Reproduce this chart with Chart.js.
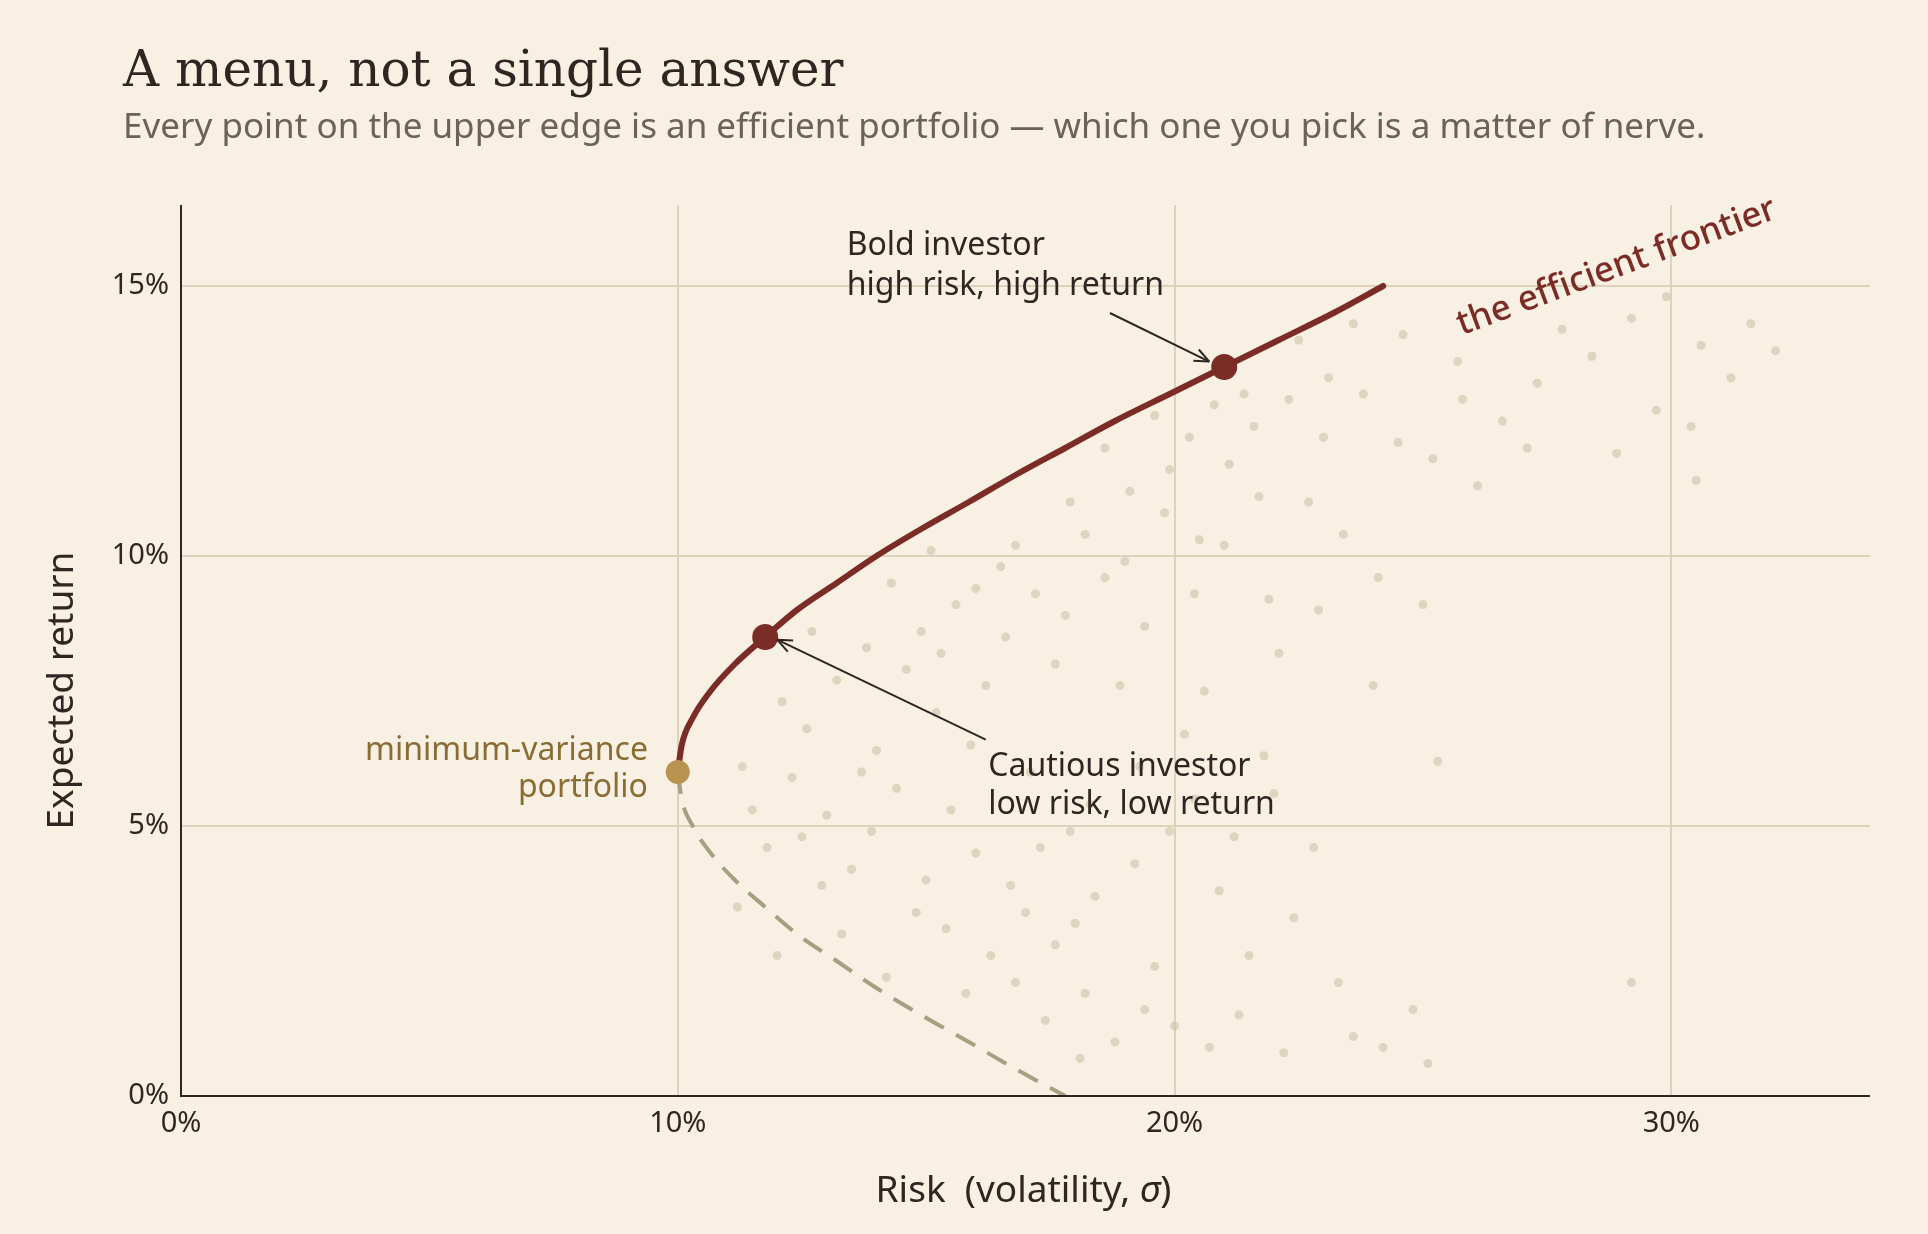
<!DOCTYPE html>
<html>
<head>
<meta charset="utf-8">
<script src="https://cdn.jsdelivr.net/npm/chart.js@4"></script>
<style>
  html, body { margin: 0; padding: 0; background: #f7f0e3; }
  #wrap { width: 1928px; height: 1234px; position: relative; }
</style>
</head>
<body>
<div id="wrap"><canvas id="chart" width="1928" height="1234"></canvas></div>
<script>
const X_TICKS = [0, 10, 20, 30];
const Y_TICKS = [0, 5, 10, 15];

// efficient frontier (upper edge), risk % vs return %
const frontierRisk = [10, 10.08, 10.3, 10.66, 11.15, 11.76, 12.4, 13.2, 14.0, 14.9, 15.86, 16.8, 17.8, 18.8, 19.9, 21.0, 22.1, 23.2, 24.2];
const frontierReturn = [6, 6.5, 7, 7.5, 8, 8.5, 9, 9.5, 10, 10.5, 11, 11.5, 12, 12.5, 13, 13.5, 14, 14.5, 15];

// lower, inefficient edge
const lowerRisk = [10, 10.08, 10.3, 10.66, 11.15, 11.76, 12.4, 13.2, 14.0, 14.9, 15.86, 16.8, 17.8];
const lowerReturn = [6, 5.5, 5, 4.5, 4, 3.5, 3, 2.5, 2, 1.5, 1, 0.5, 0];

// random portfolios (risk, return)
const cloud = [
  [11.5,5.3],[11.8,4.6],[12.3,5.9],[12.1,7.3],[12.6,6.8],[13,5.2],[13.5,4.2],[12.9,3.9],[14,6.4],[14.4,5.7],
  [13.2,7.7],[13.8,8.3],[14.6,7.9],[15.2,7.1],[15.5,5.3],[16,4.5],[14.8,3.4],[15.4,3.1],[16.3,2.6],[17,3.4],
  [16.8,2.1],[17.4,1.4],[18.1,0.7],[18.8,1.0],[17.9,4.9],[18.4,3.7],[19.2,4.3],[19.6,2.4],[20,1.3],[20.7,0.9],
  [21.3,1.5],[22.2,0.8],[23.3,2.1],[23.6,1.1],[24.2,0.9],[24.8,1.6],[25.1,0.6],[22.4,3.3],[21.5,2.6],[20.2,6.7],
  [21.2,4.8],[21.8,6.3],[22.1,8.2],[21.9,9.2],[20.4,9.3],[19.4,8.7],[18.6,9.6],[17.2,9.3],[16.5,9.8],[15.6,9.1],
  [14.9,8.6],[16.2,7.6],[17.6,8.0],[18.9,7.6],[19.3,6.1],[20.6,7.5],[15.1,10.1],[16.8,10.2],[17.9,11.0],[19.1,11.2],
  [19.8,10.8],[20.5,10.3],[21.1,11.7],[21.6,12.4],[22.3,12.9],[23.1,13.3],[23.8,13.0],[24.5,12.1],[25.2,11.8],[22.7,11.0],
  [23.4,10.4],[24.1,9.6],[25,9.1],[25.3,6.2],[26.1,11.3],[26.6,12.5],[27.3,13.2],[27.8,14.2],[28.4,13.7],[29.2,14.4],
  [29.9,14.8],[30.6,13.9],[31.2,13.3],[31.6,14.3],[32.1,13.8],[30.4,12.4],[29.7,12.7],[28.9,11.9],[26.5,14.5],[27.1,12.0],
  [25.7,13.6],[30.5,11.4],[29.2,2.1],[24.6,14.1],[23.6,14.3],[22.5,14.0],[19.6,12.6],[18.6,12.0],[20.3,12.2],[21.4,13.0],
  [11.2,3.5],[12.0,2.6],[13.3,3.0],[14.2,2.2],[15.8,1.9],[17.6,2.8],[18.2,1.9],[19.9,4.9],[20.9,3.8],[22.8,4.6],
  [13.7,6.0],[15.9,6.5],[17.1,6.0],[18.3,5.4],[16.6,8.5],[19.0,9.9],[21.0,10.2],[22.9,9.0],[24.0,7.6],[12.7,8.6],
  [11.3,6.1],[12.5,4.8],[13.9,4.9],[15.0,4.0],[16.7,3.9],[17.3,4.6],[18.0,3.2],[19.4,1.6],[20.4,5.5],[22.0,5.6],
  [14.3,9.5],[15.3,8.2],[16.0,9.4],[17.8,8.9],[18.2,10.4],[19.9,11.6],[20.8,12.8],[21.7,11.1],[23.0,12.2],[25.8,12.9]
];

// highlighted points
const boldPoint = { x: 21, y: 13.5 };
const cautiousPoint = { x: 11.76, y: 8.5 };
const minVarPoint = { x: 10, y: 6 };

const INK = "#2f2622";
const RED = "#7b2c26";
const GOLD = "#b8934f";
const GRID = "#ddd3bd";
const SANS = "'Noto Sans', sans-serif";

const annotate = {
  id: "annotate",
  afterDatasetsDraw(chart) {
    const { ctx, scales: { x, y } } = chart;
    const px = (v) => x.getPixelForValue(v);
    const py = (v) => y.getPixelForValue(v);

    function arrow(x0, y0, x1, y1) {
      const a = px(x0), b = py(y0), c = px(x1), d = py(y1);
      const ang = Math.atan2(d - b, c - a);
      ctx.save();
      ctx.strokeStyle = INK;
      ctx.lineWidth = 2;
      ctx.beginPath(); ctx.moveTo(a, b); ctx.lineTo(c, d); ctx.stroke();
      ctx.beginPath();
      ctx.moveTo(c, d);
      ctx.lineTo(c - 16 * Math.cos(ang - 0.4), d - 16 * Math.sin(ang - 0.4));
      ctx.moveTo(c, d);
      ctx.lineTo(c - 16 * Math.cos(ang + 0.4), d - 16 * Math.sin(ang + 0.4));
      ctx.stroke();
      ctx.restore();
    }

    ctx.save();
    ctx.font = `32px ${SANS}`;
    ctx.fillStyle = INK;
    ctx.textAlign = "left";
    ctx.textBaseline = "middle";
    ctx.fillText("Bold investor", px(13.4), py(15.75));
    ctx.fillText("high risk, high return", px(13.4), py(15.0));
    ctx.fillText("Cautious investor", px(16.25), py(6.1));
    ctx.fillText("low risk, low return", px(16.25), py(5.4));
    ctx.fillStyle = "#8a6d35";
    ctx.textAlign = "right";
    ctx.fillText("minimum-variance", px(9.4), py(6.4));
    ctx.fillText("portfolio", px(9.4), py(5.7));

    ctx.save();
    ctx.translate(px(28.9), py(15.35));
    ctx.rotate(-20.4 * Math.PI / 180);
    ctx.textAlign = "center";
    ctx.fillStyle = RED;
    ctx.font = `500 35px ${SANS}`;
    ctx.fillText("the efficient frontier", 0, 0);
    ctx.restore();
    ctx.restore();

    arrow(18.7, 14.5, 20.7, 13.6);
    arrow(16.2, 6.6, 12.0, 8.45);
  },
  afterDraw(chart) {
    const { ctx, chartArea } = chart;
    ctx.save();
    ctx.fillStyle = INK;
    ctx.textBaseline = "alphabetic";
    ctx.font = "50px 'DejaVu Serif', serif";
    ctx.fillText("A menu, not a single answer", 123, 86);
    ctx.fillStyle = "#6b625a";
    ctx.font = `35px ${SANS}`;
    ctx.fillText("Every point on the upper edge is an efficient portfolio \u2014 which one you pick is a matter of nerve.", 123, 138);

    // axis titles
    ctx.fillStyle = INK;
    const F = `37px ${SANS}`, FI = `italic 37px ${SANS}`;
    const p1 = "Risk  (volatility, ";
    ctx.font = F;
    const w1 = ctx.measureText(p1).width;
    ctx.font = FI;
    const w2 = ctx.measureText("\u03c3").width;
    ctx.font = F;
    const w3 = ctx.measureText(")").width;
    const cx = (chartArea.left + chartArea.right) / 2 - 2;
    let sx = cx - (w1 + w2 + w3) / 2;
    ctx.textBaseline = "middle";
    ctx.fillText(p1, sx, 1191);
    ctx.font = FI;
    ctx.fillText("\u03c3", sx + w1, 1191);
    ctx.font = F;
    ctx.fillText(")", sx + w1 + w2, 1191);

    ctx.translate(62, (chartArea.top + chartArea.bottom) / 2 + 40);
    ctx.rotate(-Math.PI / 2);
    ctx.textAlign = "center";
    ctx.fillText("Expected return", 0, 0);
    ctx.restore();

    // axis lines
    ctx.save();
    ctx.strokeStyle = INK;
    ctx.lineWidth = 2;
    ctx.beginPath();
    ctx.moveTo(chartArea.left, chartArea.top);
    ctx.lineTo(chartArea.left, chartArea.bottom);
    ctx.lineTo(chartArea.right, chartArea.bottom);
    ctx.stroke();
    ctx.restore();
  }
};

const bg = {
  id: "bg",
  beforeDraw(chart) {
    const { ctx } = chart;
    ctx.save();
    ctx.fillStyle = "#f7f0e3";
    ctx.fillRect(0, 0, chart.width, chart.height);
    ctx.restore();
  }
};

new Chart(document.getElementById("chart"), {
  type: "scatter",
  data: {
    datasets: [
      {
        data: cloud.map(([a, b]) => ({ x: a, y: b })),
        pointRadius: 4.5,
        pointBackgroundColor: "rgba(205,193,166,0.6)",
        pointBorderWidth: 0,
        order: 4,
      },
      {
        data: lowerRisk.map((v, i) => ({ x: v, y: lowerReturn[i] })),
        showLine: true,
        borderColor: "#a89e82",
        borderWidth: 4,
        borderDash: [22, 14],
        pointRadius: 0,
        cubicInterpolationMode: "monotone",
        order: 3,
      },
      {
        data: frontierRisk.map((v, i) => ({ x: v, y: frontierReturn[i] })),
        showLine: true,
        borderColor: RED,
        borderWidth: 6,
        pointRadius: 0,
        cubicInterpolationMode: "monotone",
        borderCapStyle: "round",
        order: 2,
      },
      {
        data: [boldPoint, cautiousPoint],
        pointRadius: 13,
        pointBackgroundColor: RED,
        pointBorderWidth: 0,
        order: 1,
      },
      {
        data: [minVarPoint],
        pointRadius: 12,
        pointBackgroundColor: GOLD,
        pointBorderWidth: 0,
        order: 0,
      },
    ],
  },
  options: {
    responsive: false,
    animation: false,
    layout: { padding: { left: 0, top: 205, right: 58, bottom: 0 } },
    plugins: { legend: { display: false }, tooltip: { enabled: false } },
    scales: {
      x: {
        type: "linear",
        min: 0,
        max: 34,
        afterFit: (s) => { s.height = 138; },
        afterBuildTicks: (s) => { s.ticks = X_TICKS.map((v) => ({ value: v })); },
        grid: {
          color: (c) => (c.tick && c.tick.value === 0 ? "rgba(0,0,0,0)" : GRID),
          lineWidth: 2,
          drawTicks: false,
        },
        border: { display: false },
        ticks: { color: INK, font: { family: SANS, size: 29 }, padding: 10, callback: (v) => v + "%" },
      },
      y: {
        type: "linear",
        min: 0,
        max: 16.5,
        afterFit: (s) => { s.width = 181; },
        afterBuildTicks: (s) => { s.ticks = Y_TICKS.map((v) => ({ value: v })); },
        grid: {
          color: (c) => (c.tick && c.tick.value === 0 ? "rgba(0,0,0,0)" : GRID),
          lineWidth: 2,
          drawTicks: false,
        },
        border: { display: false },
        ticks: { color: INK, font: { family: SANS, size: 29 }, padding: 12, callback: (v) => v + "%" },
      },
    },
  },
  plugins: [bg, annotate],
});
</script>
</body>
</html>
